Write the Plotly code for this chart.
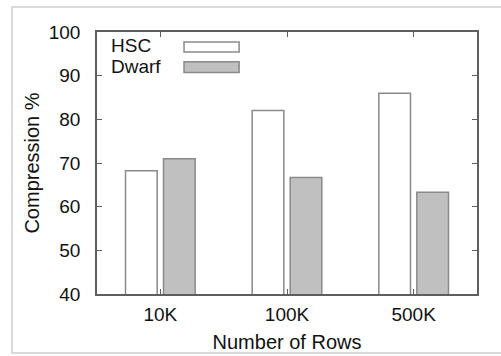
import plotly.graph_objects as go

# Data
categories = ["10K", "100K", "500K"]
hsc_values = [68.2, 82.0, 86.0]
dwarf_values = [71.0, 66.7, 63.3]
y_ticks = [40, 50, 60, 70, 80, 90, 100]

FONT = "Liberation Sans, Arial, sans-serif"
AXIS_COLOR = "#5e5e5e"
BAR_LINE = "#8a8a8a"
DWARF_FILL = "#c0c0c0"
TEXT_COLOR = "#111111"

fig = go.Figure()
fig.add_trace(go.Bar(
    x=list(range(len(categories))), y=hsc_values, name="HSC",
    width=0.25, offset=-0.275,
    marker=dict(color="white", line=dict(color=BAR_LINE, width=1.5)),
    showlegend=False,
))
fig.add_trace(go.Bar(
    x=list(range(len(categories))), y=dwarf_values, name="Dwarf",
    width=0.25, offset=0.025,
    marker=dict(color=DWARF_FILL, line=dict(color=BAR_LINE, width=1.5)),
    showlegend=False,
))

# Hand-placed legend: label on the left, swatch on the right
legend_items = [("HSC", "white", 0.947, 0.962, 0.924),
                ("Dwarf", DWARF_FILL, 0.870, 0.886, 0.845)]
for label, fill, ty, y0, y1 in legend_items:
    fig.add_annotation(x=0.032, y=ty, xref="paper", yref="paper", text=label,
                       showarrow=False, xanchor="left", yanchor="middle",
                       font=dict(family=FONT, size=19, color=TEXT_COLOR))
    fig.add_shape(type="rect", xref="paper", yref="paper",
                  x0=0.229, x1=0.374, y0=y1, y1=y0,
                  fillcolor=fill, line=dict(color=BAR_LINE, width=1.5))

# Light outer border around the figure
fig.add_shape(type="rect", xref="paper", yref="paper",
              x0=-0.2237, x1=1.08, y0=-0.2252, y1=1.0954,
              line=dict(color="#cfcfcf", width=1.5), fillcolor="rgba(0,0,0,0)",
              layer="below")

fig.update_layout(
    width=501, height=356,
    margin=dict(l=97, r=24, t=32, b=62, autoexpand=False),
    paper_bgcolor="white", plot_bgcolor="white",
    font=dict(family=FONT, color=TEXT_COLOR),
    barmode="overlay",
    showlegend=False,
)
fig.update_xaxes(
    range=[-0.5, 2.5], tickvals=list(range(len(categories))), ticktext=categories,
    ticks="inside", ticklen=5, tickcolor=AXIS_COLOR, tickwidth=1,
    showline=True, linecolor=AXIS_COLOR, linewidth=1.5, mirror="ticks",
    showgrid=False, zeroline=False, automargin=False,
    tickfont=dict(size=19), ticklabelstandoff=2,
    title=dict(text="Number of Rows", font=dict(size=20), standoff=11),
)
fig.update_yaxes(
    range=[40, 100], tickvals=y_ticks,
    ticks="inside", ticklen=5, tickcolor=AXIS_COLOR, tickwidth=1,
    showline=True, linecolor=AXIS_COLOR, linewidth=1.5, mirror="ticks",
    showgrid=False, zeroline=False, automargin=False,
    tickfont=dict(size=19), ticklabelstandoff=11,
    title=dict(text="Compression %", font=dict(size=20), standoff=4),
)

fig.write_html("out.html")
